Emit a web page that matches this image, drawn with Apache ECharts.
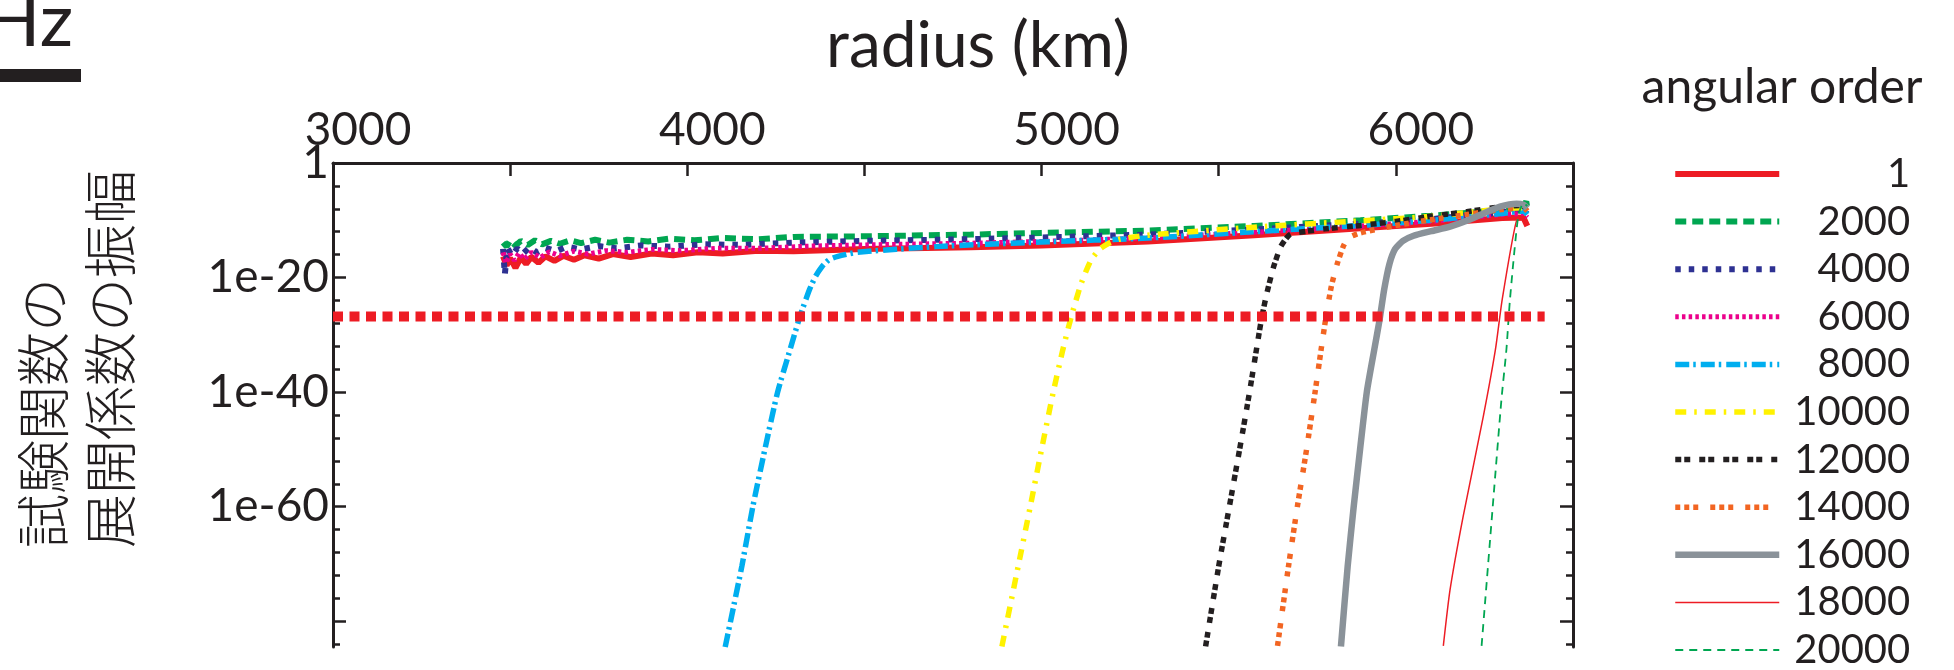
<!DOCTYPE html>
<html>
<head>
<meta charset="utf-8">
<script src="https://cdn.jsdelivr.net/npm/echarts@6.0.0/dist/echarts.min.js"></script>
<style>
html,body{margin:0;padding:0;background:#fff;}
#chart{width:1954px;height:670px;}
</style>
</head>
<body>
<div id="chart"></div>
<script>
// ---- data (radius in km, amplitude as log10 value) ----
const seriesNames = ['1','2000','4000','6000','8000','10000','12000','14000','16000','18000','20000'];

const radius1 = [3480,3490,3500,3515,3530,3545,3560,3580,3600,3625,3650,3680,3710,3750,3790,3840,3900,3960,4030,4100,4200,4300,4500,4800,5000,5300,5600,5900,6100,6300,6360,6371];
const logAmp1 = [-16.3,-17.9,-16.6,-18.3,-16.5,-17.6,-16.4,-17.4,-16.3,-17.1,-16.2,-16.9,-16.1,-16.7,-15.9,-16.4,-15.8,-16.1,-15.6,-15.8,-15.3,-15.4,-15.0,-14.7,-14.4,-13.7,-12.6,-11.4,-10.6,-9.6,-9.5,-11.0];

const radius2 = [3480,3490,3500,3515,3530,3550,3570,3590,3615,3640,3670,3700,3740,3780,3830,3890,3950,4020,4100,4200,4300,4500,4800,5000,5300,5600,5900,6100,6300,6360,6368,6371];
const logAmp2 = [-13.9,-14.6,-13.5,-14.4,-13.6,-14.3,-13.5,-14.2,-13.6,-14.1,-13.5,-14.0,-13.4,-13.9,-13.4,-13.7,-13.2,-13.5,-13.1,-13.3,-12.9,-12.8,-12.5,-12.2,-11.8,-11.0,-10.0,-9.2,-8.2,-7.6,-6.7,-7.8];

const radius4 = [3480,3485,3492,3505,3520,3535,3555,3575,3600,3630,3660,3700,3750,3800,3870,3950,4050,4150,4300,4500,4800,5000,5300,5600,5900,6100,6300,6360,6371];
const logAmp4 = [-15.0,-19.5,-14.8,-16.2,-14.9,-15.9,-14.7,-15.6,-14.8,-15.4,-14.6,-15.1,-14.5,-14.9,-14.4,-14.6,-14.2,-14.3,-13.9,-13.6,-13.3,-13.0,-12.5,-11.6,-10.6,-9.8,-8.6,-8.2,-8.8];

const radius6 = [3480,3488,3500,3512,3525,3540,3560,3585,3610,3640,3680,3720,3770,3830,3900,3980,4080,4200,4350,4500,4800,5000,5300,5600,5900,6100,6300,6360,6371];
const logAmp6 = [-15.6,-17.5,-15.9,-17.0,-15.7,-16.8,-15.6,-16.5,-15.5,-16.2,-15.4,-15.9,-15.3,-15.6,-15.1,-15.3,-14.9,-14.9,-14.5,-14.3,-14.0,-13.7,-13.1,-12.1,-11.0,-10.2,-9.0,-8.8,-9.5];

const radius8 = [4107,4154,4185,4219,4255,4290,4318,4345,4362,4380,4400,4425,4480,4700,5000,5300,5600,5900,6100,6300,6360,6371];
const logAmp8 = [-84.5,-70.4,-60,-50,-40,-32.6,-26.8,-22.1,-19.8,-18.1,-16.9,-16.3,-15.6,-14.6,-13.8,-13.1,-12.0,-10.9,-10.0,-8.8,-8.4,-9.0];

const radius10 = [4888,4934,4968,5000,5033,5060,5084,5112,5140,5165,5190,5220,5300,5600,5900,6100,6300,6360,6371];
const logAmp10 = [-84.4,-70.4,-60,-50,-40,-32.6,-26.8,-21.0,-16.9,-15.0,-14.0,-13.3,-12.6,-11.2,-10.1,-9.3,-8.0,-7.8,-8.3];

const radius12 = [5463,5500,5530,5559,5587,5614,5622,5636,5655,5675,5690,5703,5750,5800,5900,6000,6100,6200,6300,6350,6371];
const logAmp12 = [-84.4,-70.4,-60,-50,-40,-29.7,-26.8,-22.7,-18.1,-14.6,-13.2,-12.4,-11.9,-11.5,-10.9,-10.2,-9.3,-8.5,-7.6,-7.4,-7.8];

const radius14 = [5666,5697,5722,5748,5772,5789,5803,5818,5835,5852,5865,5900,6000,6100,6200,6250,6300,6360,6371];
const logAmp14 = [-84.3,-70.4,-60,-50,-40,-32.6,-26.8,-21.5,-17.5,-14.5,-13.1,-12.2,-10.9,-9.9,-9.0,-8.5,-8.1,-7.8,-8.4];

const radius16 = [5845,5864,5881,5899,5918,5939,5954,5967,5982,5998,6020,6050,6100,6153,6200,6247,6294,6341,6360,6371];
const logAmp16 = [-84.4,-70.4,-60,-50,-40,-32.6,-27.4,-22.1,-17.6,-15.0,-13.6,-12.7,-11.9,-11.1,-10.1,-8.8,-7.6,-7.1,-7.3,-7.9];

const radius18 = [6134,6153,6190,6247,6281,6300,6340,6360,6371];
const logAmp18 = [-84.3,-74.5,-61.7,-44.2,-32.6,-23.9,-10.2,-9.8,-10.4];

const radius20 = [6242,6275,6298,6312,6322,6345,6360,6371];
const logAmp20 = [-84.3,-58.8,-41.3,-32.6,-23.9,-9.4,-7.0,-7.5];

const thresholdRadius = [3000, 6420];
const thresholdLogAmp = -26.8;

const xTickLabels = [3000, 4000, 5000, 6000];
const yMinorTicks = [0,-4,-8,-12,-16,-20,-24,-28,-32,-36,-40,-44,-48,-52,-56,-60,-64,-68,-72,-76,-80,-84];
const yMajorTicks = [0,-20,-40,-60,-80];
const yTickLabels = [0,-20,-40,-60];

// ---- styling ----
const INK = '#231F20';
const FONT = 'Lato, "DejaVu Sans", sans-serif';
const CJK = '"Noto Sans CJK JP", "Noto Sans CJK SC", sans-serif';

const styles = [
  {color:'#ED1C24', width:6, type:'solid'},
  {color:'#00A651', width:6, type:[11,6]},
  {color:'#2E3192', width:6, type:[5.5,8]},
  {color:'#EC008C', width:5, type:[3.5,3.2]},
  {color:'#00AEEF', width:5.5, type:[14,4,2.5,5]},
  {color:'#FFF200', width:5.5, type:[11,8,2.5,8]},
  {color:INK, width:5.5, type:[6,3,6,9]},
  {color:'#F26522', width:5.5, type:[5,4,5,4,5,12]},
  {color:'#8A9299', width:6.5, type:'solid'},
  {color:'#ED1C24', width:1.5, type:'solid'},
  {color:'#00A651', width:1.8, type:[8,6]}
];
const radii = [radius1,radius2,radius4,radius6,radius8,radius10,radius12,radius14,radius16,radius18,radius20];
const amps = [logAmp1,logAmp2,logAmp4,logAmp6,logAmp8,logAmp10,logAmp12,logAmp14,logAmp16,logAmp18,logAmp20];

const series = seriesNames.map((name, i) => ({
  name: name,
  type: 'line',
  xAxisIndex: 0,
  yAxisIndex: 0,
  symbol: 'none',
  smooth: i >= 4 ? 0.2 : false,
  clip: true,
  lineStyle: {color: styles[i].color, width: styles[i].width, type: styles[i].type, cap: 'butt'},
  itemStyle: {color: styles[i].color},
  data: radii[i].map((r, k) => [r, amps[i][k]])
}));
series.push({
  name: 'threshold',
  type: 'line',
  xAxisIndex: 0,
  yAxisIndex: 0,
  symbol: 'none',
  z: 3,
  lineStyle: {color:'#ED1C24', width:10, type:[10,6.5], cap:'butt'},
  data: thresholdRadius.map(r => [r, thresholdLogAmp])
});

function yAxisBase(pos) {
  return {
    type: 'value', position: pos, min: -84.5, max: 0,
    splitLine: {show: false},
    axisLine: {show: false},
    axisLabel: {show: false},
    axisTick: {show: false}
  };
}
const yLeftMinor = yAxisBase('left');
yLeftMinor.axisLine = {show: true, onZero: false, lineStyle: {color: INK, width: 3}};
yLeftMinor.axisTick = {show: true, inside: true, length: 7, customValues: yMinorTicks, lineStyle: {color: INK, width: 2.5}};
yLeftMinor.axisLabel = {show: true, customValues: yTickLabels, margin: 4, color: INK, fontFamily: FONT, fontSize: 46,
  formatter: v => (v === 0 ? '1' : '1e' + v)};
const yLeftMajor = yAxisBase('left');
yLeftMajor.axisTick = {show: true, inside: true, length: 13, customValues: yMajorTicks, lineStyle: {color: INK, width: 2.5}};
const yRightMinor = yAxisBase('right');
yRightMinor.axisLine = {show: true, onZero: false, lineStyle: {color: INK, width: 3}};
yRightMinor.axisTick = {show: true, inside: true, length: 7, customValues: yMinorTicks, lineStyle: {color: INK, width: 2.5}};
const yRightMajor = yAxisBase('right');
yRightMajor.axisTick = {show: true, inside: true, length: 13, customValues: yMajorTicks, lineStyle: {color: INK, width: 2.5}};

const option = {
  animation: false,
  backgroundColor: '#ffffff',
  grid: {left: 333, right: 381, top: 163, bottom: 23, containLabel: false},
  xAxis: [{
    type: 'value', position: 'top', min: 3000, max: 6500, interval: 500,
    splitLine: {show: false},
    axisLine: {show: true, onZero: false, lineStyle: {color: INK, width: 3}},
    axisTick: {show: true, inside: true, length: 13, lineStyle: {color: INK, width: 2.5}},
    axisLabel: {show: true, margin: 10, color: INK, fontFamily: FONT, fontSize: 46,
      padding: [0, 0, 0, 50],
      formatter: v => (xTickLabels.indexOf(v) >= 0 ? String(v) : '')}
  }],
  yAxis: [yLeftMinor, yLeftMajor, yRightMinor, yRightMajor],
  legend: {
    show: true, orient: 'vertical', left: 1672, top: 154, height: 600, padding: 0,
    itemWidth: 104, itemHeight: 14, itemGap: 7.6,
    selectedMode: false,
    data: seriesNames,
    itemStyle: {opacity: 0},
    lineStyle: {width: 'inherit'},
    formatter: name => '{n|' + name + '}',
    textStyle: {
      rich: {n: {width: 126, align: 'right', fontSize: 40, lineHeight: 40, fontFamily: FONT, color: INK}}
    }
  },
  graphic: [
    {type: 'text', x: -16, y: 22, style: {text: 'Hz', font: '74px ' + FONT, fill: INK, textAlign: 'left', textVerticalAlign: 'middle'}},
    {type: 'rect', shape: {x: -2, y: 69, width: 83, height: 13}, style: {fill: INK}},
    {type: 'text', x: 978, y: 46, style: {text: 'radius (km)', font: '64px ' + FONT, fill: INK, textAlign: 'center', textVerticalAlign: 'middle'}},
    {type: 'text', x: 1782, y: 88, style: {text: 'angular order', font: '48px ' + FONT, fill: INK, textAlign: 'center', textVerticalAlign: 'middle'}},
    {type: 'text', x: 10, y: 548, rotation: Math.PI / 2,
      style: {text: '試験関数の\n展開係数の振幅', font: '300 54px ' + CJK, lineHeight: 67, fill: INK, textAlign: 'left', textVerticalAlign: 'top'}}
  ],
  series: series
};

const chart = echarts.init(document.getElementById('chart'), null, {renderer: 'canvas', width: 1954, height: 670});
chart.setOption(option);
</script>
</body>
</html>
